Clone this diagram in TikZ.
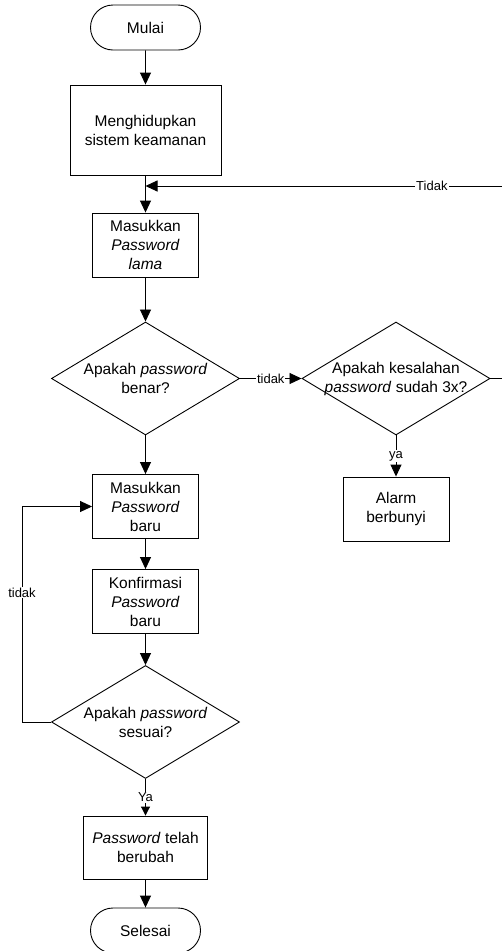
\documentclass[tikz,border=0pt]{standalone}
\usepackage{fontspec}
\setmainfont{Liberation Sans}
\usetikzlibrary{arrows.meta,shapes.geometric,shapes.misc}

\begin{document}
\begin{tikzpicture}[x=1pt, y=-1pt, >={Triangle[length=12pt,width=11pt]},
    line width=0.9pt,
    every node/.style={font=\fontsize{15.5}{19}\selectfont},
    terminal/.style={draw, rounded rectangle, minimum width=110pt, minimum height=45pt, inner sep=0pt},
    process/.style={draw, rectangle, align=center, minimum width=106pt, minimum height=64pt, inner sep=0pt},
    decision/.style={draw, diamond, align=center, aspect=1.66, minimum width=188pt, minimum height=113pt, inner sep=0pt},
    lbl/.style={fill=white, inner sep=1pt, font=\fontsize{13}{15}\selectfont}]
    \useasboundingbox (0,0) rectangle (502,951);

    % Main column: start, switch on and old password
    \node[terminal] (mulai) at (145.5,27.5) {Mulai};
    \node[process, minimum width=151pt, minimum height=90pt] (hidup) at (145.5,130) {Menghidupkan\\sistem keamanan};
    \node[process] (lama) at (145.5,245) {Masukkan\\\textit{Password}\\\textit{lama}};
    \coordinate (gabung) at (145.5,186);

    % Checking the old password
    \node[decision] (benar) at (145.5,378.5) {Apakah \textit{password}\\benar?};
    \node[decision] (salah) at (396,378.5) {\makebox[120pt]{Apakah kesalahan}\\\makebox[120pt]{\textit{password} sudah 3x?}};
    \node[process] (alarm) at (396,509) {Alarm\\berbunyi};

    % New password and confirmation
    \node[process] (baru) at (145.5,506.5) {Masukkan\\\textit{Password}\\baru};
    \node[process] (konfirm) at (145.5,601.5) {Konfirmasi\\\textit{Password}\\baru};
    \node[decision] (sesuai) at (145.5,722) {Apakah \textit{password}\\sesuai?};
    \node[process, minimum width=124pt, minimum height=63pt] (ubah) at (145.5,847.5) {\textit{Password} telah\\berubah};
    \node[terminal] (selesai) at (145.5,930.5) {Selesai};

    % Straight arrows down the main column
    \draw[->] (mulai) -- (hidup);
    \draw[->] (hidup) -- (lama);
    \draw[->] (lama) -- (benar);
    \draw[->] (benar) -- (baru);
    \draw[->] (baru) -- (konfirm);
    \draw[->] (konfirm) -- (sesuai);
    \draw[->, >={Triangle[length=9pt,width=9pt]}] (sesuai) -- node[lbl] {Ya} (ubah);
    \draw[->] (ubah) -- (selesai);

    % Wrong password branch
    \draw[->] (benar) -- node[lbl] {tidak} (salah);
    \draw[->] (salah) -- node[lbl] {ya} (alarm);
    \coordinate (kanan) at (508,378.5);
    \draw (salah.east) -- (kanan);
    \draw[->] (kanan) |- node[lbl, pos=0.605] {Tidak} (gabung);

    % Loop back when confirmation does not match
    \coordinate (kiri) at (22,722);
    \draw (sesuai.west) -- (kiri);
    \draw[->] (kiri) |- node[lbl, pos=0.3] {tidak} (baru.west);
\end{tikzpicture}
\end{document}
